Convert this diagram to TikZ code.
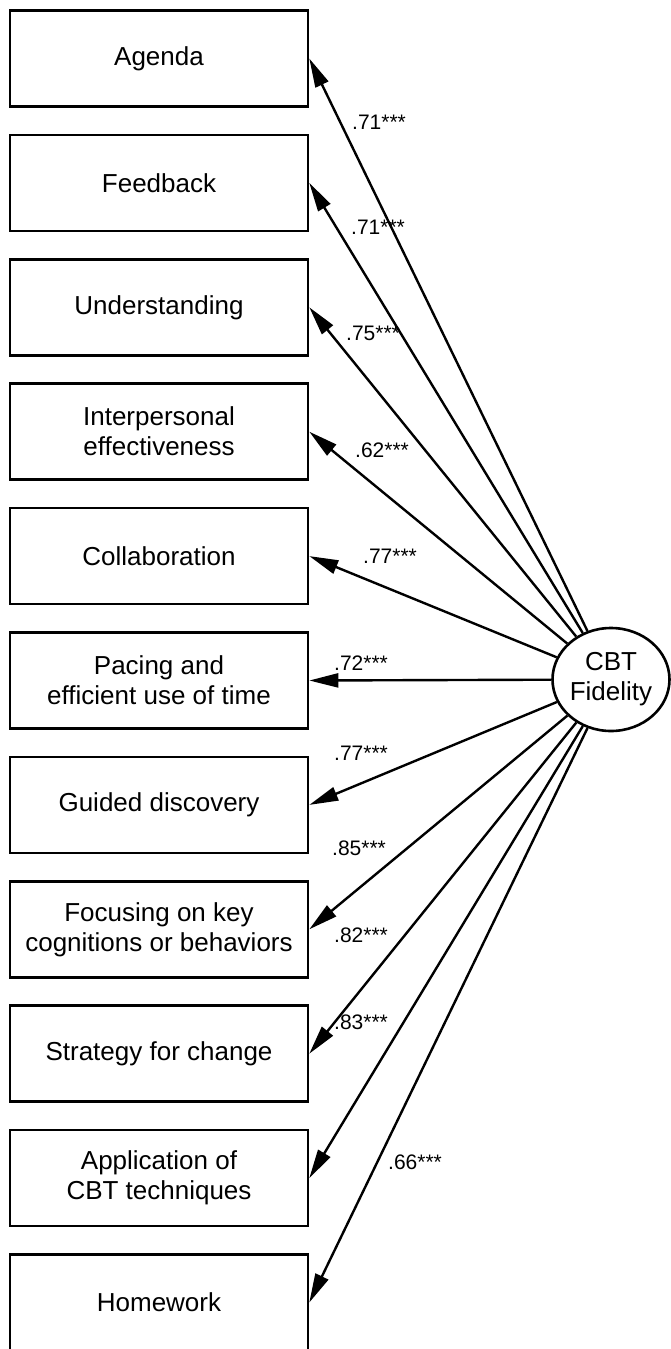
\documentclass[tikz,border=0pt]{standalone}
\usepackage{fontspec}
\setmainfont{Liberation Sans}
\usetikzlibrary{arrows.meta,shapes.geometric}
\tikzset{
  itembox/.style={draw, line width=2.6pt, minimum width=298pt, minimum height=96pt, inner sep=0pt, align=center, font=\fontsize{26}{30}\selectfont},
  latent/.style={draw, ellipse, line width=2.6pt, minimum width=117pt, minimum height=103pt, inner sep=0pt, align=center, font=\fontsize{26}{30}\selectfont},
  loadarrow/.style={line width=2.4pt, -{Triangle[length=29pt,width=14pt]}},
  coef/.style={anchor=west, inner sep=0pt, font=\fontsize{21}{24}\selectfont}
}
\begin{document}
\begin{tikzpicture}[x=1pt,y=-1pt]
\useasboundingbox (0,0) rectangle (671,1349);
\node[itembox] (b1) at (159,58.5) {Agenda};
\node[itembox] (b2) at (159,182.9) {Feedback};
\node[itembox] (b3) at (159,307.3) {Understanding};
\node[itembox] (b4) at (159,431.7) {Interpersonal\\effectiveness};
\node[itembox] (b5) at (159,556.1) {Collaboration};
\node[itembox] (b6) at (159,680.5) {Pacing and\\efficient use of time};
\node[itembox] (b7) at (159,804.9) {Guided discovery};
\node[itembox] (b8) at (159,929.3) {Focusing on key\\cognitions or behaviors};
\node[itembox] (b9) at (159,1053.7) {Strategy for change};
\node[itembox] (b10) at (159,1178.1) {Application of\\CBT techniques};
\node[itembox] (b11) at (159,1302.5) {Homework};
\node[latent] (cbt) at (611,679.5) {CBT\\Fidelity};
\foreach \i in {1,...,11} {\draw[loadarrow] (cbt) -- (b\i.east);}
\node[coef] (l1) at (352,122) {.71***};
\node[coef] (l2) at (351,227) {.71***};
\node[coef] (l3) at (346,333) {.75***};
\node[coef] (l4) at (355,450) {.62***};
\node[coef] (l5) at (363,556) {.77***};
\node[coef] (l6) at (334,663) {.72***};
\node[coef] (l7) at (334,753) {.77***};
\node[coef] (l8) at (332,848) {.85***};
\node[coef] (l9) at (334,935) {.82***};
\node[coef] (l10) at (334,1022) {.83***};
\node[coef] (l11) at (388,1162) {.66***};
\end{tikzpicture}
\end{document}
